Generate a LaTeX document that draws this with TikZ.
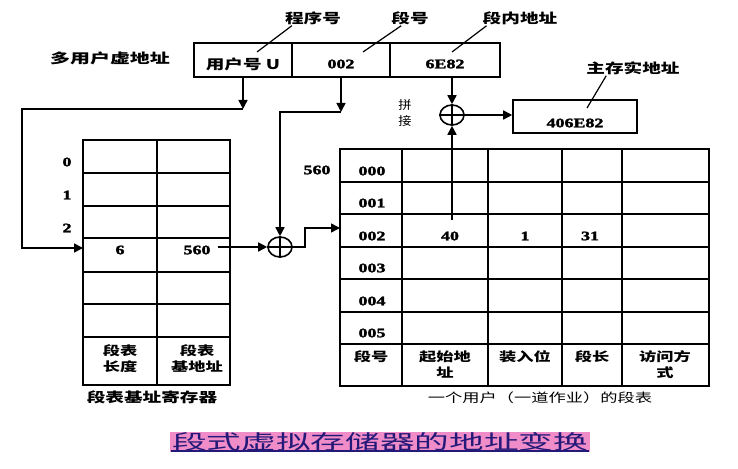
\documentclass[tikz,border=0pt]{standalone}
\usepackage{fontspec}
\usepackage{graphicx}
\setmainfont{Liberation Serif}[BoldFeatures={FakeBold=2}]
\newfontfamily\cjk{Noto Sans CJK SC}
\usetikzlibrary{arrows.meta,shapes.geometric}
\definecolor{titlepink}{RGB}{240,140,200}
\definecolor{titleblue}{RGB}{35,25,120}
% widen text horizontally
\newcommand{\wx}[1]{\scalebox{1.38}[1]{#1}}

\tikzset{
  ln/.style={line width=1.6pt},
  arr/.style={ln,-{Triangle[length=9pt,width=9pt]}},
  lbl/.style={inner sep=1pt, font=\fontsize{13.5}{15}\selectfont\cjk\bfseries},
  hdr/.style={lbl, align=center, font=\fontsize{12.5}{16}\selectfont\cjk\bfseries},
  small/.style={inner sep=1pt, font=\fontsize{12}{13}\selectfont\cjk},
  num/.style={inner sep=1pt, font=\fontsize{13}{14}\selectfont\bfseries},
  adder/.style={ellipse, draw, ln, minimum width=24pt, minimum height=20pt, inner sep=0pt},
  box/.style={draw, ln, inner sep=0pt, minimum height=34pt},
  lead/.style={line width=1.2pt},
  plus/.style={line width=1.2pt},
}

\begin{document}
\begin{tikzpicture}[x=1pt,y=-1pt]
\useasboundingbox (0,0) rectangle (738,468);

% virtual address fields
\node[box, minimum width=98pt] (vu) at (243,60) {};
\node[box, minimum width=98pt] (vs) at (341,60) {};
\node[box, minimum width=110pt] (vd) at (445,60) {};
\node[lbl] (tu) at (243,64) {\wx{用户号 \textbf{U}}};
\node[num] (ts) at (341,64) {\wx{002}};
\node[num] (td) at (445,64) {\wx{6E82}};

\node[lbl] (lva) at (110,58) {\scalebox{1.48}[1]{多用户虚地址}};
\node[lbl] (lp) at (313,18) {\wx{程序号}};
\node[lbl] (ls) at (410,18) {\wx{段号}};
\node[lbl] (ld) at (520,18) {\wx{段内地址}};
\coordinate (ep) at (257,52);
\coordinate (es) at (363,52);
\coordinate (ed) at (452,52);
\draw[lead] ([xshift=8pt]lp.south west) -- (ep);
\draw[lead] ([xshift=11pt]ls.south west) -- (es);
\draw[lead] ([xshift=5pt]ld.south west) -- (ed);

% segment table base register
\draw[ln] (83,140) rectangle (230,385);
\draw[ln] (157,140) -- (157,385);
\foreach \y in {173,206,238,272,304,337} \draw[ln] (83,\y) -- (230,\y);
\node[num] (r0) at (67,162) {\wx{0}};
\node[num] (r1) at (67,195) {\wx{1}};
\node[num] (r2) at (67,228) {\wx{2}};
\node[num] (t6) at (120,250) {\wx{6}};
\node[num] (t560) at (197,250) {\wx{560}};
\node[hdr] (hl) at (120,359) {\wx{段表}\\\wx{长度}};
\node[hdr] (hb) at (197,359) {\wx{段表}\\\wx{基地址}};
\node[lbl] (cap1) at (152,397) {\wx{段表基址寄存器}};
\coordinate (rin) at (83,248);

% segment table of one user
\draw[ln] (340,149) rectangle (709,386);
\foreach \x in {402,488,562,622} \draw[ln] (\x,149) -- (\x,386);
\foreach \y in {182,214,247,279,312,344} \draw[ln] (340,\y) -- (709,\y);
\node[num] (s0) at (372,171) {\wx{000}};
\node[num] (s1) at (372,203) {\wx{001}};
\node[num] (s2) at (372,236) {\wx{002}};
\node[num] (s3) at (372,268) {\wx{003}};
\node[num] (s4) at (372,301) {\wx{004}};
\node[num] (s5) at (372,333) {\wx{005}};
\node[num] (t40) at (450,236) {\wx{40}};
\node[num] (t1) at (525,236) {\wx{1}};
\node[num] (t31) at (590,236) {\wx{31}};
\node[num] (base) at (317,170) {\wx{560}};
\node[hdr] (h1) at (371,357) {\wx{段号}};
\node[hdr] (h2) at (445,365) {\wx{起始地}\\\wx{址}};
\node[hdr] (h3) at (525,357) {\wx{装入位}};
\node[hdr] (h4) at (592,357) {\wx{段长}};
\node[hdr] (h5) at (665,365) {\wx{访问方}\\\wx{式}};
\node[lbl, font=\fontsize{12.5}{15}\selectfont\cjk] (cap2) at (540,398) {\wx{一个用户（一道作业）的段表}};
\coordinate (tin) at (340,228);
\coordinate (c40) at (452,220);

% adders
\node[adder] (a1) at (280,247) {};
\draw[plus] (a1.north) -- (a1.south) (a1.west) -- (a1.east);
\node[adder] (a2) at (452,115) {};
\draw[plus] (a2.north) -- (a2.south) (a2.west) -- (a2.east);
\node[small] (pj1) at (405,105) {\scalebox{1.1}[1]{拼}};
\node[small] (pj2) at (405,121) {\scalebox{1.1}[1]{接}};

% physical address
\node[box, minimum width=124pt, minimum height=33pt] (pa) at (575,116.5) {};
\node[num] (tpa) at (575,123) {\wx{406E82}};
\node[lbl] (lpa) at (633,68) {\wx{主存实地址}};
\coordinate (epa) at (587,108);
\draw[lead] ([xshift=21pt]lpa.south west) -- (epa);

% connectors
\coordinate (ju) at (243,109);
\coordinate (js) at (341,112);
\draw[arr] (vu.south) -- (ju);
\draw[arr] (ju) -- (22,109) -- (22,248) -- (rin);
\draw[arr] (vs.south) -- (js);
\draw[arr] (js) -| (a1.north);
\draw[arr] ([xshift=6pt]t560.east |- a1.west) -- (a1.west);
\draw[arr] (a1.east) -- (305,247) |- (tin);
\draw[arr] (c40) -- (a2.south);
\draw[arr] (a2.north |- vd.south) -- (a2.north);
\draw[arr] (a2.east) -- (a2.east -| pa.west);

% title
\fill[titlepink] (170,432) rectangle (590,452);
\node[inner sep=0pt, anchor=base, text=titleblue, font=\fontsize{20}{22}\selectfont\cjk] (title) at (380,449) {\resizebox{416pt}{\height}{段式虚拟存储器的地址变换}};
\draw[titleblue, line width=1.5pt] (171,451) -- (589,451);
\end{tikzpicture}
\end{document}
